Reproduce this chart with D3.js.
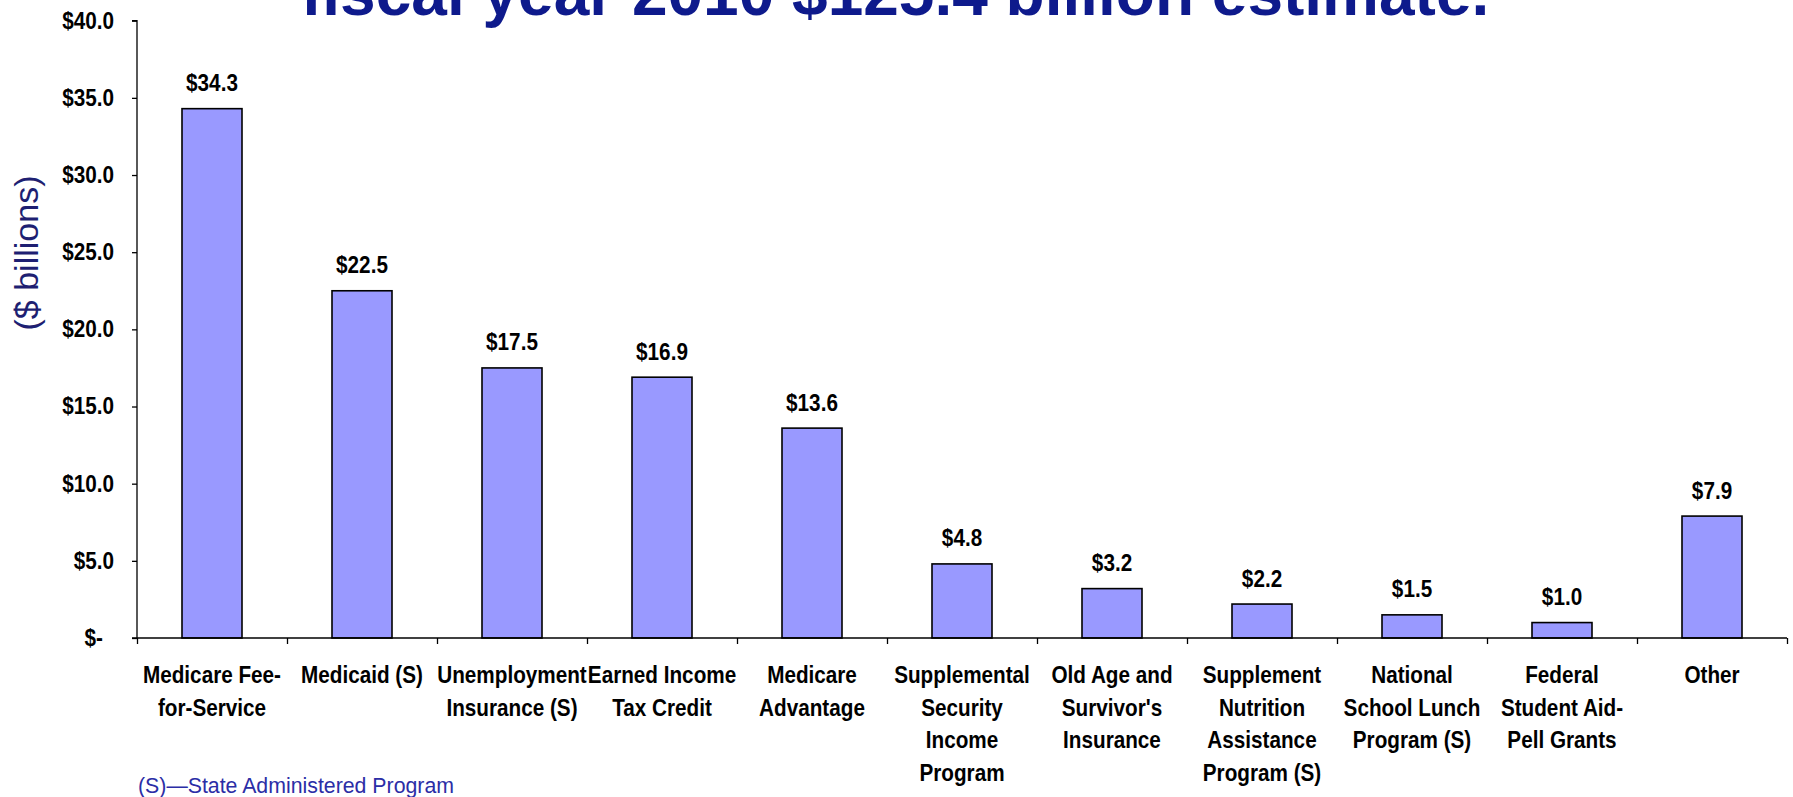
<!DOCTYPE html>
<html>
<head>
<meta charset="utf-8">
<script src="https://cdn.jsdelivr.net/npm/d3@7"></script>
<style>
  html, body { margin: 0; padding: 0; background: #fff; }
  svg { display: block; }
  .narrow { font-family: "Liberation Sans Narrow", "Arial Narrow", "Liberation Sans", Arial, sans-serif; font-weight: bold; }
</style>
</head>
<body>
<svg id="chart" width="1793" height="797"></svg>
<script>
// Program names (one array entry per label line)
const programs = [
  ["Medicare Fee-", "for-Service"],
  ["Medicaid (S)"],
  ["Unemployment", "Insurance (S)"],
  ["Earned Income", "Tax Credit"],
  ["Medicare", "Advantage"],
  ["Supplemental", "Security", "Income", "Program"],
  ["Old Age and", "Survivor's", "Insurance"],
  ["Supplement", "Nutrition", "Assistance", "Program (S)"],
  ["National", "School Lunch", "Program (S)"],
  ["Federal", "Student Aid-", "Pell Grants"],
  ["Other"]
];
// Improper payment estimates, $ billions
const amounts = [34.3, 22.5, 17.5, 16.9, 13.6, 4.8, 3.2, 2.2, 1.5, 1.0, 7.9];
const yTicks = [0, 5, 10, 15, 20, 25, 30, 35, 40];
const titleText = "fiscal year 2010 $125.4 billion estimate.";
const yAxisTitle = "($ billions)";
const footnote = "(S)\u2014State Administered Program";

const svg = d3.select("#chart");
const plotLeft = 137, plotRight = 1787, plotTop = 20.7, plotBottom = 638;
const squeeze = 0.9;   // horizontal condensing of the bold label face

const keys = programs.map((p, i) => i);
const x = d3.scaleBand().domain(keys).range([plotLeft, plotRight])
  .paddingInner(0.6).paddingOuter(0.3);
const xEdge = d3.scaleLinear().domain([0, programs.length]).range([plotLeft, plotRight]);
const y = d3.scaleLinear().domain([0, 40]).range([plotBottom, plotTop]);

// Title (second line of heading)
svg.append("text")
  .attr("x", 301).attr("y", 15)
  .attr("font-family", "Liberation Sans, Arial, sans-serif")
  .attr("font-weight", "bold")
  .attr("font-size", 64)
  .attr("fill", "#0E1A8C")
  .text(titleText);

// Bars
svg.append("g").selectAll("rect")
  .data(amounts)
  .join("rect")
  .attr("x", (d, i) => x(i))
  .attr("y", d => y(d))
  .attr("width", x.bandwidth())
  .attr("height", d => y(0) - y(d))
  .attr("fill", "#9999FF")
  .attr("stroke", "#000")
  .attr("stroke-width", 1.6);

// Value labels
svg.append("g").selectAll("text")
  .data(amounts)
  .join("text")
  .attr("class", "narrow")
  .attr("transform", (d, i) =>
    `translate(${x(i) + x.bandwidth() / 2},${y(d) - 17.5}) scale(${squeeze},1)`)
  .attr("text-anchor", "middle")
  .attr("font-size", 23)
  .attr("fill", "#000")
  .text(d => "$" + d.toFixed(1));

// Y axis
const yAxis = d3.axisLeft(y)
  .tickValues(yTicks)
  .tickSize(5)
  .tickPadding(18)
  .tickFormat(d => d === 0 ? "$-" : "$" + d.toFixed(1));
const gy = svg.append("g").attr("transform", `translate(${plotLeft},0)`).call(yAxis);
gy.select(".domain").attr("stroke", "#000").attr("stroke-width", 1.3).attr("d", `M-5,${plotTop}H0V${plotBottom}`);
gy.selectAll(".tick line").attr("stroke", "#000").attr("stroke-width", 1.3);
gy.selectAll(".tick text")
  .attr("class", "narrow")
  .attr("font-size", 23)
  .attr("fill", "#000")
  .attr("transform", `scale(${squeeze},1)`)
  .attr("x", d => (d === 0 ? -34 : -23) / squeeze);

// X axis with tick marks at category boundaries
const xAxis = d3.axisBottom(xEdge)
  .tickValues(d3.range(programs.length + 1))
  .tickSize(6)
  .tickFormat("");
const gx = svg.append("g").attr("transform", `translate(0,${plotBottom})`).call(xAxis);
gx.select(".domain").attr("stroke", "#000").attr("stroke-width", 1.3).attr("d", `M${plotLeft - 5},0H${plotRight}`);
gx.selectAll(".tick line").attr("stroke", "#000").attr("stroke-width", 1.3);

// Category labels
const cat = svg.append("g").selectAll("text")
  .data(programs)
  .join("text")
  .attr("class", "narrow")
  .attr("text-anchor", "middle")
  .attr("font-size", 23)
  .attr("fill", "#000")
  .attr("transform", (lines, i) =>
    `translate(${x(i) + x.bandwidth() / 2},683) scale(${squeeze},1)`);
cat.each(function(lines) {
  d3.select(this).selectAll("tspan")
    .data(lines)
    .join("tspan")
    .attr("x", 0)
    .attr("y", (l, j) => j * 32.7)
    .text(l => l);
});

// Y axis title
svg.append("text")
  .attr("transform", "translate(38,253) rotate(-90)")
  .attr("text-anchor", "middle")
  .attr("font-family", "Liberation Sans, Arial, sans-serif")
  .attr("font-size", 34)
  .attr("fill", "#1E1F72")
  .text(yAxisTitle);

// Footnote
svg.append("text")
  .attr("x", 138).attr("y", 793)
  .attr("font-family", "Liberation Sans, Arial, sans-serif")
  .attr("font-size", 21.3)
  .attr("fill", "#2B2DA6")
  .text(footnote);
</script>
</body>
</html>
